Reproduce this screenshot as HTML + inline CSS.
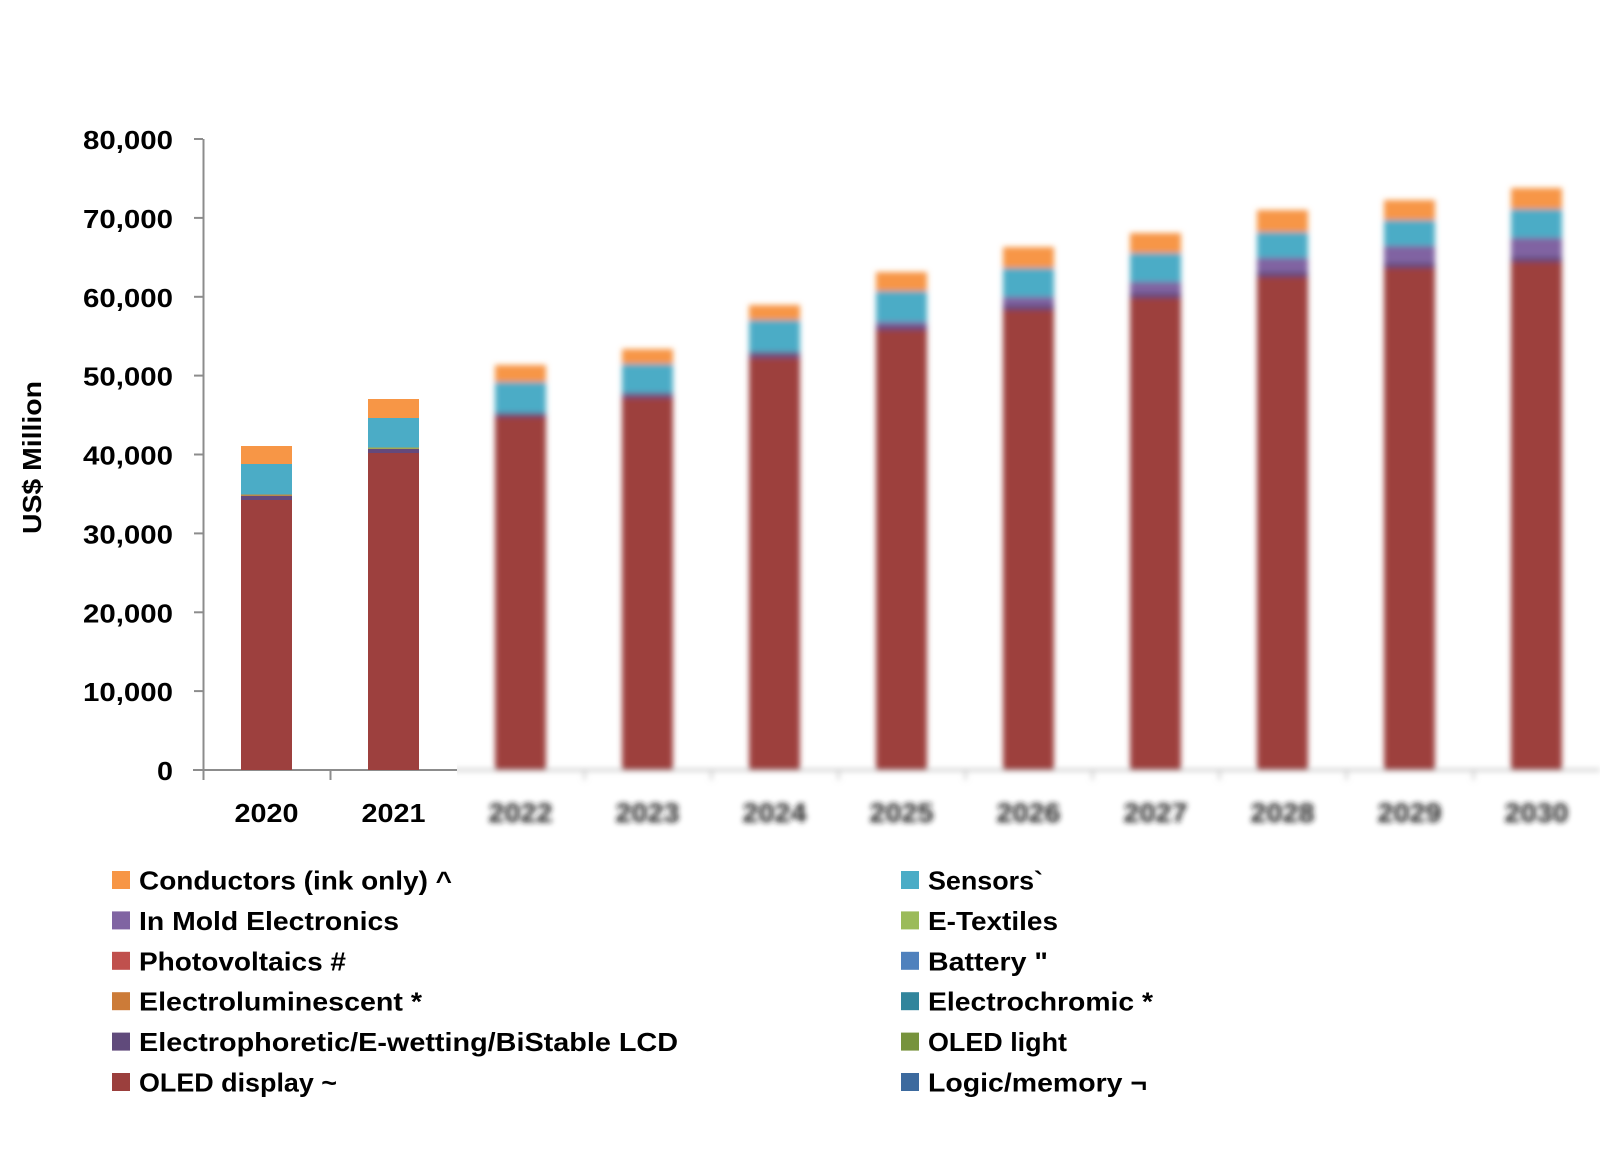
<!DOCTYPE html>
<html>
<head>
<meta charset="utf-8">
<style>
html,body{margin:0;padding:0;background:#ffffff;}
svg{display:block;}
text{font-family:"Liberation Sans",sans-serif;font-weight:bold;fill:#000;}
</style>
</head>
<body>
<svg width="1600" height="1159" viewBox="0 0 1600 1159" xmlns="http://www.w3.org/2000/svg">
<defs>
  <filter id="bl" filterUnits="userSpaceOnUse" x="430" y="100" width="1180" height="760">
    <feGaussianBlur stdDeviation="2.9"/>
  </filter>
  <filter id="blt" filterUnits="userSpaceOnUse" x="430" y="760" width="1180" height="100">
    <feGaussianBlur stdDeviation="3"/>
  </filter>
  <clipPath id="cl"><rect x="457" y="0" width="1143" height="1159"/></clipPath>
</defs>
<rect x="0" y="0" width="1600" height="1159" fill="#ffffff"/>

<!-- Y axis -->
<line x1="203.5" y1="139" x2="203.5" y2="780" stroke="#8c8c8c" stroke-width="2"/>
<g stroke="#8c8c8c" stroke-width="2">
  <line x1="194" y1="139" x2="203" y2="139"/>
  <line x1="194" y1="217.9" x2="203" y2="217.9"/>
  <line x1="194" y1="296.8" x2="203" y2="296.8"/>
  <line x1="194" y1="375.6" x2="203" y2="375.6"/>
  <line x1="194" y1="454.5" x2="203" y2="454.5"/>
  <line x1="194" y1="533.4" x2="203" y2="533.4"/>
  <line x1="194" y1="612.3" x2="203" y2="612.3"/>
  <line x1="194" y1="691.1" x2="203" y2="691.1"/>
  <line x1="193" y1="770" x2="457" y2="770"/>
  <line x1="330.5" y1="770" x2="330.5" y2="780"/>
</g>

<!-- Y tick labels -->
<g font-size="26">
  <text x="83" y="149" textLength="90" lengthAdjust="spacingAndGlyphs">80,000</text>
  <text x="83" y="228" textLength="90" lengthAdjust="spacingAndGlyphs">70,000</text>
  <text x="83" y="307" textLength="90" lengthAdjust="spacingAndGlyphs">60,000</text>
  <text x="83" y="385.5" textLength="90" lengthAdjust="spacingAndGlyphs">50,000</text>
  <text x="83" y="464.5" textLength="90" lengthAdjust="spacingAndGlyphs">40,000</text>
  <text x="83" y="543.5" textLength="90" lengthAdjust="spacingAndGlyphs">30,000</text>
  <text x="83" y="622.3" textLength="90" lengthAdjust="spacingAndGlyphs">20,000</text>
  <text x="83" y="701" textLength="90" lengthAdjust="spacingAndGlyphs">10,000</text>
  <text x="173" y="780" text-anchor="end" textLength="16" lengthAdjust="spacingAndGlyphs">0</text>
</g>

<!-- Y axis title -->
<text font-size="26" transform="translate(41,457.5) rotate(-90)" text-anchor="middle" textLength="153" lengthAdjust="spacingAndGlyphs">US$ Million</text>

<!-- Sharp bars 2020 -->
<g>
  <rect x="241" y="500" width="51" height="270" fill="#9d403e"/>
  <rect x="241" y="496" width="51" height="4" fill="#65497b"/>
  <rect x="241" y="494.5" width="51" height="1.5" fill="#b88a4a"/>
  <rect x="241" y="464" width="51" height="30.5" fill="#4bacc6"/>
  <rect x="241" y="446" width="51" height="18" fill="#f79646"/>
</g>
<!-- Sharp bars 2021 -->
<g>
  <rect x="368" y="453" width="51" height="317" fill="#9d403e"/>
  <rect x="368" y="449" width="51" height="4" fill="#65497b"/>
  <rect x="368" y="447.5" width="51" height="1.5" fill="#a3a856"/>
  <rect x="368" y="418" width="51" height="29.5" fill="#4bacc6"/>
  <rect x="368" y="399" width="51" height="19" fill="#f79646"/>
</g>

<!-- X labels sharp -->
<text font-size="26" x="234.5" y="822" textLength="64" lengthAdjust="spacingAndGlyphs">2020</text>
<text font-size="26" x="361.5" y="822" textLength="64" lengthAdjust="spacingAndGlyphs">2021</text>

<!-- Blurred region -->
<g clip-path="url(#cl)">
  <g filter="url(#bl)">
    <line x1="440" y1="770" x2="1600" y2="770" stroke="#b8b8b8" stroke-width="2"/>
    <g stroke="#c4c4c4" stroke-width="2">
      <line x1="584.5" y1="770" x2="584.5" y2="780"/>
      <line x1="711.5" y1="770" x2="711.5" y2="780"/>
      <line x1="838.5" y1="770" x2="838.5" y2="780"/>
      <line x1="965.5" y1="770" x2="965.5" y2="780"/>
      <line x1="1092.5" y1="770" x2="1092.5" y2="780"/>
      <line x1="1219.5" y1="770" x2="1219.5" y2="780"/>
      <line x1="1346.5" y1="770" x2="1346.5" y2="780"/>
      <line x1="1473.5" y1="770" x2="1473.5" y2="780"/>
    </g>
    <!-- 2022 -->
    <rect x="495" y="417" width="51" height="353" fill="#9d403e"/>
    <rect x="495" y="413" width="51" height="4" fill="#65497b"/>
    <rect x="495" y="382" width="51" height="31" fill="#4bacc6"/>
    <rect x="495" y="365" width="51" height="17" fill="#f79646"/>
    <!-- 2023 -->
    <rect x="622" y="398" width="51" height="372" fill="#9d403e"/>
    <rect x="622" y="393" width="51" height="5" fill="#6d4f82"/>
    <rect x="622" y="364" width="51" height="29" fill="#4bacc6"/>
    <rect x="622" y="349" width="51" height="15" fill="#f79646"/>
    <!-- 2024 -->
    <rect x="749" y="358" width="51" height="412" fill="#9d403e"/>
    <rect x="749" y="352" width="51" height="6" fill="#6d4f82"/>
    <rect x="749" y="320" width="51" height="32" fill="#4bacc6"/>
    <rect x="749" y="305" width="51" height="15" fill="#f79646"/>
    <!-- 2025 -->
    <rect x="876" y="330" width="51" height="440" fill="#9d403e"/>
    <rect x="876" y="326" width="51" height="4" fill="#65497b"/>
    <rect x="876" y="322" width="51" height="4" fill="#8064a2"/>
    <rect x="876" y="291" width="51" height="31" fill="#4bacc6"/>
    <rect x="876" y="272" width="51" height="19" fill="#f79646"/>
    <!-- 2026 -->
    <rect x="1003" y="310" width="51" height="460" fill="#9d403e"/>
    <rect x="1003" y="305" width="51" height="5" fill="#65497b"/>
    <rect x="1003" y="297" width="51" height="8" fill="#8064a2"/>
    <rect x="1003" y="268" width="51" height="29" fill="#4bacc6"/>
    <rect x="1003" y="247" width="51" height="21" fill="#f79646"/>
    <!-- 2027 -->
    <rect x="1130" y="298" width="51" height="472" fill="#9d403e"/>
    <rect x="1130" y="293" width="51" height="5" fill="#65497b"/>
    <rect x="1130" y="282" width="51" height="11" fill="#8064a2"/>
    <rect x="1130" y="253" width="51" height="29" fill="#4bacc6"/>
    <rect x="1130" y="233" width="51" height="20" fill="#f79646"/>
    <!-- 2028 -->
    <rect x="1257" y="277" width="51" height="493" fill="#9d403e"/>
    <rect x="1257" y="272" width="51" height="5" fill="#65497b"/>
    <rect x="1257" y="258" width="51" height="14" fill="#8064a2"/>
    <rect x="1257" y="232" width="51" height="26" fill="#4bacc6"/>
    <rect x="1257" y="210" width="51" height="22" fill="#f79646"/>
    <!-- 2029 -->
    <rect x="1384" y="268" width="51" height="502" fill="#9d403e"/>
    <rect x="1384" y="263" width="51" height="5" fill="#65497b"/>
    <rect x="1384" y="246" width="51" height="17" fill="#8064a2"/>
    <rect x="1384" y="220" width="51" height="26" fill="#4bacc6"/>
    <rect x="1384" y="200" width="51" height="20" fill="#f79646"/>
    <!-- 2030 -->
    <rect x="1511" y="262" width="51" height="508" fill="#9d403e"/>
    <rect x="1511" y="257" width="51" height="5" fill="#65497b"/>
    <rect x="1511" y="238" width="51" height="19" fill="#8064a2"/>
    <rect x="1511" y="209" width="51" height="29" fill="#4bacc6"/>
    <rect x="1511" y="188" width="51" height="21" fill="#f79646"/>
  </g>
  <g filter="url(#blt)" font-size="27">
    <text x="488.5" y="822" textLength="64" lengthAdjust="spacingAndGlyphs" style="fill:#1e1e1e">2022</text>
    <text x="615.5" y="822" textLength="64" lengthAdjust="spacingAndGlyphs" style="fill:#1e1e1e">2023</text>
    <text x="742.5" y="822" textLength="64" lengthAdjust="spacingAndGlyphs" style="fill:#1e1e1e">2024</text>
    <text x="869.5" y="822" textLength="64" lengthAdjust="spacingAndGlyphs" style="fill:#1e1e1e">2025</text>
    <text x="996.5" y="822" textLength="64" lengthAdjust="spacingAndGlyphs" style="fill:#1e1e1e">2026</text>
    <text x="1123.5" y="822" textLength="64" lengthAdjust="spacingAndGlyphs" style="fill:#1e1e1e">2027</text>
    <text x="1250.5" y="822" textLength="64" lengthAdjust="spacingAndGlyphs" style="fill:#1e1e1e">2028</text>
    <text x="1377.5" y="822" textLength="64" lengthAdjust="spacingAndGlyphs" style="fill:#1e1e1e">2029</text>
    <text x="1504.5" y="822" textLength="64" lengthAdjust="spacingAndGlyphs" style="fill:#1e1e1e">2030</text>
  </g>
</g>

<!-- Legend left column -->
<g font-size="26">
  <rect x="112" y="871" width="18" height="18" fill="#f79646"/>
  <text x="139" y="889.5" textLength="313" lengthAdjust="spacingAndGlyphs">Conductors (ink only) ^</text>
  <rect x="112" y="911.4" width="18" height="18" fill="#8064a2"/>
  <text x="139" y="930" textLength="260" lengthAdjust="spacingAndGlyphs">In Mold Electronics</text>
  <rect x="112" y="951.8" width="18" height="18" fill="#c0504d"/>
  <text x="139" y="970.3" textLength="207" lengthAdjust="spacingAndGlyphs">Photovoltaics #</text>
  <rect x="112" y="992.2" width="18" height="18" fill="#cc7b38"/>
  <text x="139" y="1010.7" textLength="283" lengthAdjust="spacingAndGlyphs">Electroluminescent *</text>
  <rect x="112" y="1032.6" width="18" height="18" fill="#604a7b"/>
  <text x="139" y="1051.1" textLength="539" lengthAdjust="spacingAndGlyphs">Electrophoretic/E-wetting/BiStable LCD</text>
  <rect x="112" y="1073" width="18" height="18" fill="#9b3f3d"/>
  <text x="139" y="1091.5" textLength="198" lengthAdjust="spacingAndGlyphs">OLED display ~</text>
</g>

<!-- Legend right column -->
<g font-size="26">
  <rect x="901" y="871" width="18" height="18" fill="#4bacc6"/>
  <text x="928" y="889.5" textLength="115" lengthAdjust="spacingAndGlyphs">Sensors`</text>
  <rect x="901" y="911.4" width="18" height="18" fill="#9bbb59"/>
  <text x="928" y="930" textLength="130" lengthAdjust="spacingAndGlyphs">E-Textiles</text>
  <rect x="901" y="951.8" width="18" height="18" fill="#4f81bd"/>
  <text x="928" y="970.3" textLength="120" lengthAdjust="spacingAndGlyphs">Battery "</text>
  <rect x="901" y="992.2" width="18" height="18" fill="#31859c"/>
  <text x="928" y="1010.7" textLength="225" lengthAdjust="spacingAndGlyphs">Electrochromic *</text>
  <rect x="901" y="1032.6" width="18" height="18" fill="#77933c"/>
  <text x="928" y="1051.1" textLength="139" lengthAdjust="spacingAndGlyphs">OLED light</text>
  <rect x="901" y="1073" width="18" height="18" fill="#3c6a9e"/>
  <text x="928" y="1091.5" textLength="219" lengthAdjust="spacingAndGlyphs">Logic/memory ¬</text>
</g>
</svg>
</body>
</html>
